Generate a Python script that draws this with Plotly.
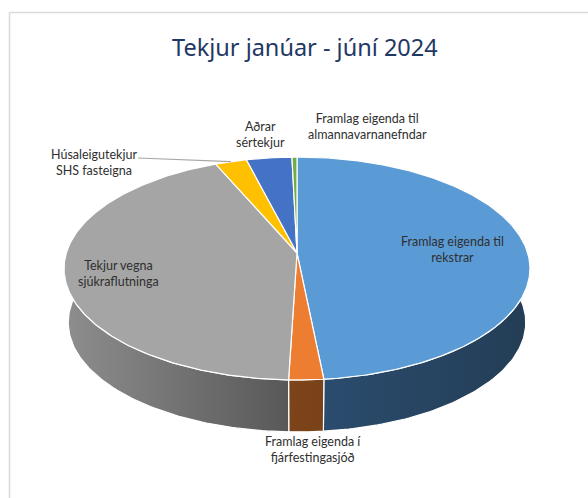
import numpy as np
import plotly.graph_objects as go

title = "Tekjur janúar - júní 2024"
categories = ["Framlag eigenda til rekstrar", "Framlag eigenda í fjárfestingasjóð",
              "Tekjur vegna sjúkraflutninga", "Húsaleigutekjur SHS fasteigna",
              "Aðrar sértekjur", "Framlag eigenda til almannavarnanefndar"]
values = [48.4, 2.1, 43.0, 2.5, 3.6, 0.4]
colors = ["#5b9bd5", "#ed7d31", "#a5a5a5", "#ffc000", "#4472c4", "#70ad47"]
rim_grad = [["#2b4c6e", "#233d55"], ["#7d441a", "#7a4218"], ["#8e8e8e", "#585858"],
            ["#8a6a00", "#8a6a00"], ["#2a4a80", "#2a4a80"], ["#3f6628", "#3f6628"]]
label_lines = ["Framlag eigenda til<br>rekstrar", "Framlag eigenda í<br>fjárfestingasjóð",
               "Tekjur vegna<br>sjúkraflutninga", "Húsaleigutekjur<br>SHS fasteigna",
               "Aðrar<br>sértekjur", "Framlag eigenda til<br>almannavarnanefndar"]
label_pos = [(452, 249.5), (313, 449), (118, 273), (94, 162), (260, 134.5), (367, 126)]

# projection of the tilted disc
CX, CY, A, B, K = 297.0, 253.0, 230.7, 109.3, 0.139
DEPTH, SHRINK = 52.0, 0.982


def top(t):
    d = 1 + K * np.cos(t)
    return CX + A * np.sin(t) / d, CY - B * np.cos(t) / d


def bottom(t):
    x, y = top(t)
    return CX + (x - CX) * SHRINK, CY + (y - CY) * SHRINK + DEPTH + (1 - SHRINK) * 127


edges = np.radians(np.concatenate([[0], np.cumsum(values)]) / sum(values) * 360)
fig = go.Figure()

# side wall
lo, hi = np.radians(62), np.radians(298)
for i in range(len(values)):
    a, b = max(edges[i], lo), min(edges[i + 1], hi)
    if b <= a:
        continue
    t = np.linspace(a, b, 120)
    xt, yt = top(t)
    xb, yb = bottom(t[::-1])
    fig.add_trace(go.Scatter(
        x=np.r_[xt, xb, xt[0]], y=np.r_[yt, yb, yt[0]], mode="lines", fill="toself",
        line=dict(color="white", width=1.2),
        fillgradient=dict(type="horizontal", colorscale=[[0, rim_grad[i][0]], [1, rim_grad[i][1]]]),
        hoverinfo="skip"))

# top face
for i in range(len(values)):
    t = np.linspace(edges[i], edges[i + 1], 240)
    x, y = top(t)
    fig.add_trace(go.Scatter(
        x=np.r_[CX, x, CX], y=np.r_[CY, y, CY], mode="lines", fill="toself",
        fillcolor=colors[i], line=dict(color="white", width=1.2),
        text=categories[i], hoverinfo="text"))

# leader line of the rental income label
mid = (edges[3] + edges[4]) / 2
lx, ly = top(mid)
fig.add_trace(go.Scatter(x=[138, lx], y=[158, ly], mode="lines",
                         line=dict(color="#a6a6a6", width=1.2), hoverinfo="skip"))

for text, (x, y) in zip(label_lines, label_pos):
    fig.add_annotation(x=x, y=y, text=text, showarrow=False, xanchor="center", yanchor="middle",
                       font=dict(family="Lato", size=12.5, color="#2f2f2f"), align="center")

fig.add_annotation(x=305, y=47, text=title, showarrow=False, xanchor="center", yanchor="middle",
                   font=dict(family="Noto Sans", size=23.5, color="#1f3864"))

line = dict(color="#d9d9d9", width=1.5)
fig.add_shape(type="line", x0=9.5, x1=9.5, y0=12.5, y1=498, line=line, layer="below")
fig.add_shape(type="line", x0=9.5, x1=588, y0=12.5, y1=12.5, line=line, layer="below")

fig.update_layout(width=588, height=498, margin=dict(l=0, r=0, t=0, b=0), showlegend=False,
                  paper_bgcolor="white", plot_bgcolor="white",
                  xaxis=dict(range=[0, 588], visible=False, fixedrange=True),
                  yaxis=dict(range=[498, 0], visible=False, fixedrange=True))
fig.write_html("out.html", config=dict(displayModeBar=False),
               post_script="document.body.style.margin='0';document.documentElement.style.overflow='hidden';")
